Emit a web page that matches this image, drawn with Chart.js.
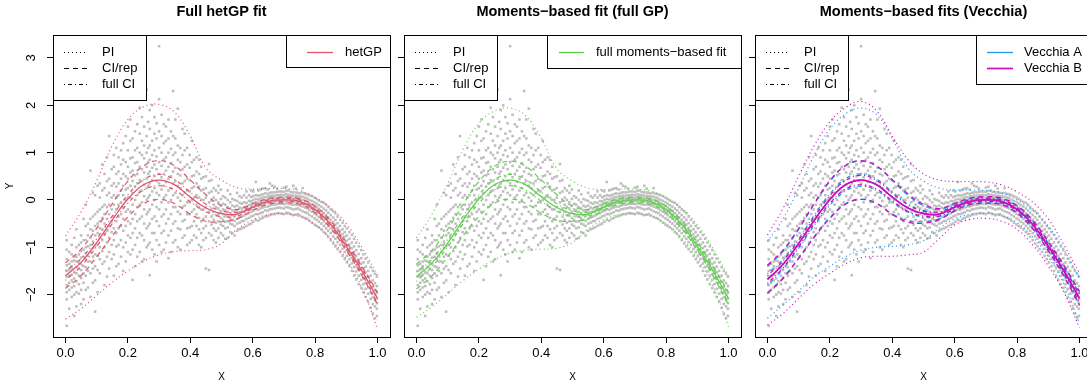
<!DOCTYPE html>
<html>
<head>
<meta charset="utf-8">
<title>hetGP vs moments-based fits</title>
<script src="https://cdn.jsdelivr.net/npm/chart.js@4.4.1/dist/chart.umd.min.js"></script>
<style>
  html, body { margin: 0; padding: 0; background: #fff; overflow: hidden; }
  #wrap { position: relative; width: 1087px; height: 385px; overflow: hidden; }
  #wrap canvas { position: absolute; top: 0; }
</style>
</head>
<body>
<div id="wrap">
  <canvas id="p1" width="400" height="385" style="left:0px"></canvas>
  <canvas id="p2" width="400" height="385" style="left:351px"></canvas>
  <canvas id="p3" width="400" height="385" style="left:702px"></canvas>
</div>
<script>
// prediction grid
const gridX = [0, 0.05, 0.1, 0.15, 0.2, 0.25, 0.3, 0.35, 0.4, 0.45, 0.5,
               0.55, 0.6, 0.65, 0.7, 0.75, 0.8, 0.85, 0.9, 0.95, 1];

// full hetGP fit
const hetMean   = [-1.60, -1.32, -0.90, -0.42, 0.02, 0.32, 0.42, 0.32, 0.06, -0.17, -0.29,
                   -0.30, -0.15, -0.03, 0.00, -0.03, -0.20, -0.52, -0.98, -1.50, -2.08];
const hetPiLo   = [-2.52, -2.30, -2.02, -1.74, -1.50, -1.30, -1.16, -1.09, -1.07, -1.05, -0.92,
                   -0.62, -0.42, -0.31, -0.29, -0.35, -0.52, -0.82, -1.25, -1.85, -2.72];
const hetPiHi   = [-0.76, -0.25, 0.40, 1.15, 1.70, 1.97, 2.02, 1.85, 1.35, 0.68, 0.42,
                   0.26, 0.23, 0.24, 0.24, 0.20, 0.05, -0.17, -0.50, -1.00, -1.60];
const hetCiRep  = [0.27, 0.28, 0.30, 0.34, 0.38, 0.40, 0.41, 0.40, 0.36, 0.28, 0.17,
                   0.10, 0.07, 0.06, 0.06, 0.06, 0.07, 0.08, 0.09, 0.10, 0.13];
const hetCiFull = [0.10, 0.08, 0.08, 0.08, 0.09, 0.11, 0.12, 0.11, 0.10, 0.08, 0.06,
                   0.04, 0.03, 0.03, 0.03, 0.03, 0.03, 0.04, 0.05, 0.06, 0.10];

// moments-based fit, full GP
const momMean   = [-1.62, -1.33, -0.91, -0.42, 0.02, 0.32, 0.42, 0.32, 0.07, -0.16, -0.29,
                   -0.30, -0.15, -0.03, 0.00, -0.03, -0.20, -0.52, -0.98, -1.50, -2.08];
const momPiLo   = [-2.48, -2.26, -1.98, -1.70, -1.46, -1.26, -1.12, -1.06, -1.04, -1.02, -0.90,
                   -0.61, -0.41, -0.31, -0.29, -0.34, -0.51, -0.80, -1.23, -1.82, -2.68];
const momPiHi   = [-0.80, -0.30, 0.35, 1.08, 1.62, 1.88, 1.94, 1.78, 1.30, 0.66, 0.40,
                   0.25, 0.22, 0.23, 0.23, 0.19, 0.04, -0.18, -0.52, -1.02, -1.62];
const momCiRep  = [0.26, 0.27, 0.29, 0.33, 0.37, 0.39, 0.40, 0.39, 0.35, 0.27, 0.16,
                   0.10, 0.07, 0.06, 0.06, 0.06, 0.07, 0.08, 0.09, 0.10, 0.13];
const momCiFull = [0.10, 0.08, 0.08, 0.08, 0.09, 0.11, 0.12, 0.11, 0.10, 0.08, 0.06,
                   0.04, 0.03, 0.03, 0.03, 0.03, 0.03, 0.04, 0.05, 0.06, 0.10];

// moments-based fits, Vecchia approximations A and B
const vecAMean   = [-1.68, -1.36, -0.92, -0.43, 0.01, 0.32, 0.42, 0.32, 0.06, -0.17, -0.29,
                    -0.30, -0.15, -0.03, 0.00, -0.03, -0.20, -0.52, -0.98, -1.50, -2.08];
const vecAPiLo   = [-2.50, -2.22, -1.92, -1.62, -1.40, -1.20, -1.06, -1.00, -0.98, -0.95, -0.86,
                    -0.60, -0.40, -0.30, -0.28, -0.33, -0.48, -0.78, -1.20, -1.78, -2.60];
const vecAPiHi   = [-0.88, -0.40, 0.25, 0.95, 1.50, 1.82, 1.94, 1.80, 1.30, 0.68, 0.40,
                    0.25, 0.21, 0.21, 0.20, 0.15, 0.00, -0.22, -0.55, -1.05, -1.65];
const vecACiRep  = [0.28, 0.28, 0.30, 0.34, 0.38, 0.40, 0.40, 0.39, 0.35, 0.27, 0.17,
                    0.10, 0.07, 0.06, 0.06, 0.06, 0.07, 0.08, 0.09, 0.10, 0.13];
const vecACiFull = [0.12, 0.10, 0.10, 0.11, 0.12, 0.13, 0.13, 0.12, 0.11, 0.09, 0.07,
                    0.05, 0.04, 0.04, 0.04, 0.04, 0.04, 0.05, 0.06, 0.07, 0.11];
const vecBMean   = [-1.68, -1.36, -0.92, -0.43, 0.01, 0.32, 0.42, 0.32, 0.06, -0.17, -0.29,
                    -0.30, -0.15, -0.03, 0.00, -0.03, -0.20, -0.52, -0.98, -1.50, -2.08];
const vecBPiLo   = [-2.64, -2.40, -2.08, -1.78, -1.55, -1.35, -1.22, -1.19, -1.19, -1.16, -1.10,
                    -0.82, -0.53, -0.41, -0.39, -0.45, -0.62, -0.95, -1.40, -1.95, -2.70];
const vecBPiHi   = [-0.74, -0.18, 0.50, 1.15, 1.65, 1.95, 2.08, 1.88, 1.35, 0.85, 0.55,
                    0.42, 0.39, 0.39, 0.38, 0.32, 0.17, -0.05, -0.40, -0.95, -1.55];
const vecBCiRep  = [0.30, 0.30, 0.32, 0.36, 0.40, 0.41, 0.41, 0.40, 0.37, 0.30, 0.20,
                    0.12, 0.08, 0.07, 0.07, 0.07, 0.08, 0.09, 0.10, 0.12, 0.15];
const vecBCiFull = [0.08, 0.07, 0.07, 0.07, 0.08, 0.09, 0.10, 0.09, 0.08, 0.07, 0.05,
                    0.04, 0.03, 0.03, 0.03, 0.03, 0.03, 0.04, 0.04, 0.05, 0.08];

// observed responses, grouped by design location (replicates share an x)
const obsX = [0.004, 0.02, 0.035, 0.05, 0.065, 0.08, 0.095, 0.11, 0.125, 0.14,
              0.155, 0.17, 0.185, 0.2, 0.215, 0.23, 0.245, 0.26, 0.27, 0.285,
              0.3, 0.315, 0.33, 0.345, 0.36, 0.375, 0.39, 0.405, 0.42, 0.435,
              0.45, 0.46, 0.475, 0.49, 0.505, 0.52, 0.535, 0.55, 0.565, 0.58,
              0.595, 0.61, 0.625, 0.64, 0.655, 0.67, 0.685, 0.7, 0.715, 0.73,
              0.745, 0.76, 0.775, 0.79, 0.805, 0.82, 0.835, 0.85, 0.865, 0.88,
              0.895, 0.91, 0.925, 0.94, 0.955, 0.97, 0.985, 0.998,
              0.012, 0.028, 0.043, 0.058, 0.072, 0.088, 0.103, 0.118, 0.133, 0.148,
              0.163, 0.178, 0.193, 0.208, 0.223, 0.238, 0.252, 0.265, 0.278, 0.292,
              0.308, 0.322, 0.338, 0.352, 0.368, 0.382, 0.398, 0.412, 0.428, 0.442,
              0.468, 0.482, 0.498, 0.512, 0.528, 0.542, 0.558, 0.572, 0.588, 0.602,
              0.618, 0.632, 0.648, 0.662, 0.678, 0.692, 0.708, 0.722, 0.738, 0.752,
              0.768, 0.782, 0.798, 0.812, 0.828, 0.842, 0.858, 0.872, 0.888, 0.902,
              0.918, 0.932, 0.948, 0.962, 0.978, 0.992];
const obsY = [
  [-2.66, -2.10, -1.95, -1.80, -1.62, -1.50, -1.38, -1.25, -1.05, -0.85],
  [-2.05, -1.85, -1.70, -1.58, -1.45, -1.40, -1.30, -1.15, -0.95],
  [-2.25, -1.95, -1.72, -1.55, -1.42, -1.30, -1.20, -1.00, -0.62],
  [-2.20, -1.90, -1.65, -1.48, -1.35, -1.22, -1.08, -0.90, -0.75],
  [-1.90, -1.60, -1.42, -1.25, -1.12, -1.00, -0.85, -0.55, -0.10],
  [-2.05, -1.55, -1.30, -1.10, -0.95, -0.80, -0.62, -0.40, 0.62],
  [-2.36, -1.70, -1.40, -1.15, -0.98, -0.75, -0.55, -0.30, 0.10],
  [-1.55, -1.25, -1.00, -0.80, -0.60, -0.45, -0.20, 0.05, 0.35],
  [-1.80, -1.30, -1.00, -0.72, -0.50, -0.30, -0.10, 0.25, 0.55],
  [-1.45, -1.10, -0.80, -0.55, -0.30, -0.10, 0.15, 0.45, 1.35],
  [-1.60, -1.15, -0.85, -0.60, -0.35, -0.10, 0.10, 0.35, 0.70, 0.95],
  [-1.35, -0.95, -0.60, -0.35, -0.10, 0.10, 0.35, 0.60, 0.90],
  [-1.50, -1.00, -0.65, -0.40, -0.15, 0.10, 0.30, 0.55, 0.85, 1.20],
  [-1.10, -0.75, -0.45, -0.20, 0.05, 0.25, 0.45, 0.70, 1.05, 1.55],
  [-1.69, -1.05, -0.70, -0.40, -0.10, 0.15, 0.40, 0.62, 0.90, 1.30],
  [-1.20, -0.80, -0.45, -0.15, 0.10, 0.35, 0.55, 0.80, 1.10, 1.60, 2.30],
  [-1.30, -0.75, -0.35, -0.05, 0.20, 0.40, 0.65, 0.95, 1.25, 1.75],
  [-1.00, -0.60, -0.30, 0.00, 0.25, 0.45, 0.70, 1.00, 1.35, 2.33],
  [-1.59, -0.90, -0.50, -0.20, 0.10, 0.35, 0.60, 0.85, 1.15, 1.50, 1.90],
  [-1.15, -0.70, -0.35, 0.00, 0.25, 0.50, 0.75, 1.05, 1.40, 1.75],
  [-0.95, -0.55, -0.20, 0.10, 0.35, 0.55, 0.80, 1.10, 1.45, 2.13, 3.25],
  [-1.05, -0.65, -0.30, 0.05, 0.30, 0.55, 0.85, 1.20, 1.60],
  [-1.23, -0.75, -0.40, -0.05, 0.20, 0.45, 0.70, 1.00, 1.30, 1.70],
  [-0.90, -0.50, -0.15, 0.10, 0.35, 0.60, 0.95, 1.35, 2.30],
  [-1.00, -0.60, -0.25, 0.05, 0.30, 0.55, 0.85, 1.15, 1.93],
  [-0.80, -0.45, -0.15, 0.10, 0.35, 0.65, 0.95, 1.50],
  [-0.95, -0.60, -0.30, -0.05, 0.20, 0.45, 0.75, 1.10],
  [-0.85, -0.55, -0.25, 0.00, 0.25, 0.50, 0.80, 1.25],
  [-0.80, -0.55, -0.30, -0.10, 0.10, 0.35, 0.60, 0.90],
  [-1.00, -0.70, -0.45, -0.20, 0.00, 0.20, 0.45, 0.70],
  [-1.45, -0.80, -0.55, -0.35, -0.15, 0.05, 0.25, 0.50],
  [-1.48, -0.70, -0.45, -0.25, -0.05, 0.15, 0.40, 0.76],
  [-0.85, -0.60, -0.42, -0.25, -0.10, 0.05, 0.25],
  [-0.80, -0.60, -0.45, -0.30, -0.18, -0.05, 0.15, 0.30],
  [-0.75, -0.55, -0.42, -0.30, -0.20, -0.08, 0.08],
  [-0.80, -0.58, -0.45, -0.35, -0.25, -0.15, 0.00, 0.20],
  [-0.70, -0.52, -0.42, -0.32, -0.22, -0.12, 0.02],
  [-0.65, -0.50, -0.40, -0.30, -0.22, -0.12, -0.02, 0.15],
  [-0.60, -0.45, -0.35, -0.25, -0.18, -0.08, 0.05],
  [-0.55, -0.40, -0.30, -0.22, -0.14, -0.06, 0.05, 0.18],
  [-0.50, -0.35, -0.25, -0.18, -0.10, -0.03, 0.06, 0.20],
  [-0.42, -0.30, -0.20, -0.12, -0.05, 0.02, 0.10, 0.38],
  [-0.40, -0.28, -0.18, -0.10, -0.04, 0.03, 0.10, 0.22],
  [-0.35, -0.22, -0.14, -0.06, 0.00, 0.06, 0.14, 0.25],
  [-0.32, -0.20, -0.12, -0.05, 0.02, 0.08, 0.15, 0.35],
  [-0.30, -0.18, -0.10, -0.03, 0.03, 0.09, 0.16, 0.28],
  [-0.28, -0.16, -0.08, -0.02, 0.04, 0.10, 0.18],
  [-0.30, -0.18, -0.09, -0.02, 0.04, 0.10, 0.17, 0.26],
  [-0.28, -0.16, -0.08, -0.01, 0.05, 0.11, 0.20],
  [-0.32, -0.20, -0.10, -0.03, 0.03, 0.09, 0.16, 0.30],
  [-0.30, -0.18, -0.10, -0.04, 0.02, 0.08, 0.15],
  [-0.36, -0.24, -0.14, -0.07, 0.00, 0.07, 0.15, 0.25],
  [-0.40, -0.28, -0.18, -0.10, -0.04, 0.03, 0.12],
  [-0.48, -0.35, -0.25, -0.17, -0.10, -0.02, 0.08],
  [-0.55, -0.42, -0.32, -0.24, -0.16, -0.08, 0.02],
  [-0.62, -0.50, -0.40, -0.31, -0.23, -0.14, -0.04],
  [-0.72, -0.60, -0.50, -0.40, -0.32, -0.22, -0.10],
  [-0.85, -0.70, -0.60, -0.50, -0.42, -0.32, -0.20],
  [-0.98, -0.82, -0.70, -0.62, -0.52, -0.42, -0.28],
  [-1.10, -0.95, -0.84, -0.75, -0.65, -0.55, -0.42],
  [-1.25, -1.10, -0.98, -0.88, -0.78, -0.68, -0.55],
  [-1.40, -1.25, -1.14, -1.04, -0.94, -0.82, -0.68],
  [-1.60, -1.42, -1.30, -1.20, -1.10, -0.98, -0.82],
  [-1.78, -1.60, -1.48, -1.37, -1.26, -1.14, -0.98],
  [-1.95, -1.78, -1.65, -1.55, -1.44, -1.32, -1.15],
  [-2.15, -1.98, -1.85, -1.74, -1.62, -1.50, -1.32],
  [-2.40, -2.20, -2.06, -1.95, -1.84, -1.70, -1.50],
  [-2.45, -2.30, -2.18, -2.08, -1.96, -1.82, -1.62],
  [-2.30, -1.90, -1.75, -1.60, -1.48, -1.35, -1.10],
  [-2.45, -2.00, -1.82, -1.66, -1.52, -1.28, -1.20, -0.80],
  [-1.98, -1.78, -1.60, -1.45, -1.33, -1.15, -0.95],
  [-2.10, -1.75, -1.55, -1.40, -1.20, -1.05, -0.85, -0.40],
  [-1.85, -1.50, -1.30, -1.18, -0.98, -0.75, -0.50],
  [-1.75, -1.45, -1.20, -1.02, -0.88, -0.65, -0.35, 0.15],
  [-1.95, -1.48, -1.18, -0.95, -0.70, -0.50, -0.25, 0.30],
  [-1.35, -1.08, -0.85, -0.62, -0.38, -0.15, 0.20, 0.75],
  [-1.62, -1.20, -0.90, -0.65, -0.40, -0.15, 0.10, 0.40, 0.90],
  [-1.25, -0.95, -0.68, -0.45, -0.20, 0.05, 0.30, 0.65],
  [-1.40, -0.98, -0.70, -0.45, -0.20, 0.05, 0.28, 0.55, 1.10],
  [-1.20, -0.85, -0.55, -0.30, -0.05, 0.20, 0.45, 0.75, 1.05],
  [-1.30, -0.90, -0.55, -0.25, 0.00, 0.22, 0.50, 0.80, 1.35],
  [-1.15, -0.80, -0.50, -0.25, 0.05, 0.30, 0.58, 0.88, 1.25, 1.70],
  [-1.40, -0.95, -0.60, -0.30, 0.00, 0.28, 0.52, 0.78, 1.05, 1.45],
  [-1.10, -0.70, -0.40, -0.10, 0.18, 0.42, 0.70, 1.00, 1.40, 1.95],
  [-1.25, -0.85, -0.50, -0.20, 0.08, 0.32, 0.58, 0.88, 1.15, 1.55],
  [-0.95, -0.55, -0.25, 0.05, 0.30, 0.55, 0.80, 1.10, 1.65],
  [-1.05, -0.70, -0.40, -0.10, 0.18, 0.42, 0.68, 0.95, 1.25, 2.00],
  [-1.30, -0.85, -0.45, -0.15, 0.15, 0.40, 0.65, 0.92, 1.30, 1.62],
  [-1.10, -0.70, -0.35, -0.05, 0.22, 0.48, 0.72, 1.00, 1.35, 1.80],
  [-0.90, -0.50, -0.20, 0.10, 0.38, 0.62, 0.90, 1.25, 1.55],
  [-1.10, -0.65, -0.30, 0.00, 0.25, 0.50, 0.78, 1.08, 1.45],
  [-0.85, -0.45, -0.15, 0.15, 0.40, 0.68, 1.00, 1.30, 1.70],
  [-1.05, -0.62, -0.30, -0.02, 0.25, 0.52, 0.80, 1.10],
  [-0.75, -0.42, -0.12, 0.15, 0.40, 0.70, 1.05, 1.40],
  [-0.90, -0.58, -0.30, -0.05, 0.18, 0.42, 0.68, 0.95],
  [-0.75, -0.45, -0.20, 0.05, 0.28, 0.52, 0.85],
  [-0.95, -0.62, -0.38, -0.15, 0.05, 0.28, 0.55, 0.85],
  [-0.85, -0.60, -0.40, -0.20, 0.00, 0.22, 0.48],
  [-0.75, -0.52, -0.35, -0.18, -0.02, 0.18, 0.42],
  [-0.90, -0.65, -0.48, -0.32, -0.15, 0.00, 0.20],
  [-0.70, -0.52, -0.38, -0.25, -0.12, 0.02, 0.22],
  [-0.82, -0.60, -0.46, -0.34, -0.22, -0.10, 0.05],
  [-0.68, -0.50, -0.40, -0.28, -0.18, -0.05, 0.12],
  [-0.75, -0.55, -0.44, -0.34, -0.24, -0.14, 0.00],
  [-0.62, -0.48, -0.36, -0.26, -0.16, -0.06, 0.08],
  [-0.58, -0.44, -0.33, -0.24, -0.15, -0.05, 0.10],
  [-0.52, -0.38, -0.28, -0.19, -0.11, -0.02, 0.10],
  [-0.46, -0.33, -0.23, -0.15, -0.07, 0.00, 0.08, 0.18],
  [-0.44, -0.30, -0.21, -0.13, -0.06, 0.01, 0.09, 0.20],
  [-0.38, -0.26, -0.16, -0.08, -0.01, 0.05, 0.12, 0.24],
  [-0.34, -0.23, -0.14, -0.06, 0.01, 0.07, 0.13, 0.22],
  [-0.30, -0.19, -0.10, -0.03, 0.03, 0.09, 0.16, 0.30],
  [-0.28, -0.17, -0.09, -0.02, 0.04, 0.10, 0.17, 0.24],
  [-0.29, -0.17, -0.08, -0.01, 0.05, 0.11, 0.18],
  [-0.27, -0.15, -0.07, 0.00, 0.06, 0.12, 0.19, 0.28],
  [-0.30, -0.18, -0.09, -0.02, 0.04, 0.10, 0.17],
  [-0.31, -0.19, -0.10, -0.03, 0.03, 0.09, 0.16, 0.24],
  [-0.33, -0.21, -0.12, -0.05, 0.01, 0.07, 0.14],
  [-0.38, -0.26, -0.16, -0.09, -0.02, 0.05, 0.13],
  [-0.44, -0.32, -0.22, -0.14, -0.07, 0.00, 0.10],
  [-0.52, -0.39, -0.29, -0.21, -0.13, -0.05, 0.05],
  [-0.58, -0.46, -0.36, -0.27, -0.19, -0.11, -0.01],
  [-0.68, -0.55, -0.45, -0.36, -0.28, -0.18, -0.06],
  [-0.78, -0.65, -0.55, -0.46, -0.37, -0.27, -0.15],
  [-0.92, -0.77, -0.66, -0.56, -0.47, -0.37, -0.24],
  [-1.04, -0.89, -0.78, -0.68, -0.59, -0.49, -0.35],
  [-1.18, -1.03, -0.91, -0.82, -0.72, -0.62, -0.48],
  [-1.32, -1.18, -1.06, -0.96, -0.86, -0.75, -0.60],
  [-1.50, -1.34, -1.22, -1.12, -1.02, -0.90, -0.74],
  [-1.68, -1.51, -1.39, -1.29, -1.18, -1.06, -0.90],
  [-1.86, -1.69, -1.57, -1.46, -1.35, -1.23, -1.06],
  [-2.05, -1.88, -1.75, -1.64, -1.53, -1.41, -1.24],
  [-2.28, -2.09, -1.96, -1.85, -1.73, -1.60, -1.42],
  [-2.50, -2.25, -2.12, -2.01, -1.90, -1.76, -1.56]
];

// axis ticks
const xTicks = [0, 0.2, 0.4, 0.6, 0.8, 1];
const yTicks = [-2, -1, 0, 1, 2, 3];

const FONT = "'Liberation Sans', Arial, Helvetica, sans-serif";
const DOTTED = [1, 3];
const DASHED = [5, 4];
const DOTDASH = [1, 3, 4, 3];

const fits = {
  het:  { name: 'hetGP', color: '#DF536B', width: 1.3,
          mean: hetMean, piLo: hetPiLo, piHi: hetPiHi, ciRep: hetCiRep, ciFull: hetCiFull },
  mom:  { name: 'full moments\u2212based fit', color: '#61D04F', width: 1.3,
          mean: momMean, piLo: momPiLo, piHi: momPiHi, ciRep: momCiRep, ciFull: momCiFull },
  vecA: { name: 'Vecchia A', color: '#2297E6', width: 1.3,
          mean: vecAMean, piLo: vecAPiLo, piHi: vecAPiHi, ciRep: vecACiRep, ciFull: vecACiFull },
  vecB: { name: 'Vecchia B', color: '#CD0BBC', width: 1.7,
          mean: vecBMean, piLo: vecBPiLo, piHi: vecBPiHi, ciRep: vecBCiRep, ciFull: vecBCiFull }
};

const panels = [
  { id: 'p1', title: 'Full hetGP fit', yLabels: true, fits: [fits.het],
    legend: { w: 104, h: 32, lineFrom: 21, lineTo: 47, textAt: 59 } },
  { id: 'p2', title: 'Moments\u2212based fit (full GP)', yLabels: false, fits: [fits.mom],
    legend: { w: 194, h: 33, lineFrom: 12, lineTo: 37, textAt: 49 } },
  { id: 'p3', title: 'Moments\u2212based fits (Vecchia)', yLabels: false, fits: [fits.vecA, fits.vecB],
    legend: { w: 116, h: 49, lineFrom: 11, lineTo: 37, textAt: 48 } }
];

function pts(ys) {
  return gridX.map((x, i) => ({ x: x, y: ys[i] }));
}

function shifted(mean, hw, sign) {
  return gridX.map((x, i) => ({ x: x, y: mean[i] + sign * hw[i] }));
}

function fitDatasets(fit, order) {
  const base = {
    type: 'line', borderColor: fit.color, borderWidth: 1.2, pointRadius: 0,
    tension: 0.4, fill: false, order: order
  };
  return [
    Object.assign({}, base, { data: pts(fit.mean), borderWidth: fit.width }),
    Object.assign({}, base, { data: shifted(fit.mean, fit.ciFull, 1), borderDash: DOTDASH }),
    Object.assign({}, base, { data: shifted(fit.mean, fit.ciFull, -1), borderDash: DOTDASH }),
    Object.assign({}, base, { data: shifted(fit.mean, fit.ciRep, 1), borderDash: DASHED }),
    Object.assign({}, base, { data: shifted(fit.mean, fit.ciRep, -1), borderDash: DASHED }),
    Object.assign({}, base, { data: pts(fit.piHi), borderDash: DOTTED }),
    Object.assign({}, base, { data: pts(fit.piLo), borderDash: DOTTED })
  ];
}

const obsPoints = [];
obsX.forEach((x, i) => obsY[i].forEach(y => obsPoints.push({ x: x, y: y })));

// box, titles, rotated y labels and the two legends of each panel
const panelDeco = {
  id: 'panelDeco',
  afterDraw(chart, args, opts) {
    const { ctx, chartArea: a } = chart;
    const yScale = chart.scales.y;
    const cx = (a.left + a.right) / 2;
    ctx.save();
    ctx.strokeStyle = '#000';
    ctx.lineWidth = 1;
    ctx.setLineDash([]);
    ctx.strokeRect(a.left + 0.5, a.top + 0.5, a.right - a.left, a.bottom - a.top);

    ctx.fillStyle = '#000';
    ctx.textAlign = 'center';
    ctx.textBaseline = 'middle';
    ctx.font = 'bold 14.5px ' + FONT;
    ctx.fillText(opts.title, cx, 12);
    ctx.font = '10px ' + FONT;
    ctx.fillText('X', cx, 377);

    if (opts.yLabels) {
      ctx.font = '13px ' + FONT;
      yTicks.forEach(v => {
        ctx.save();
        ctx.translate(31, yScale.getPixelForValue(v));
        ctx.rotate(-Math.PI / 2);
        ctx.fillText(String(v).replace('-', '\u2212'), 0, 0);
        ctx.restore();
      });
      ctx.save();
      ctx.font = '10px ' + FONT;
      ctx.translate(10, (a.top + a.bottom) / 2);
      ctx.rotate(-Math.PI / 2);
      ctx.fillText('Y', 0, 0);
      ctx.restore();
    }

    // line-type legend, top left
    const lx = a.left, ly = a.top;
    ctx.fillStyle = '#fff';
    ctx.fillRect(lx, ly, 93, 65);
    ctx.strokeRect(lx + 0.5, ly + 0.5, 93, 65);
    ctx.font = '13px ' + FONT;
    ctx.textAlign = 'left';
    [['PI', DOTTED], ['CI/rep', DASHED], ['full CI', DOTDASH]].forEach((e, i) => {
      const yy = ly + 17 + i * 16;
      ctx.setLineDash(e[1]);
      ctx.beginPath();
      ctx.moveTo(lx + 11, yy + 0.5);
      ctx.lineTo(lx + 34, yy + 0.5);
      ctx.stroke();
      ctx.setLineDash([]);
      ctx.fillStyle = '#000';
      ctx.fillText(e[0], lx + 49, yy);
    });

    // fit legend, top right
    const L = opts.legend;
    const rx = a.right - L.w, ry = a.top;
    ctx.fillStyle = '#fff';
    ctx.fillRect(rx, ry, L.w, L.h);
    ctx.strokeStyle = '#000';
    ctx.strokeRect(rx + 0.5, ry + 0.5, L.w, L.h);
    opts.fits.forEach((f, i) => {
      const yy = ry + 17 + i * 16;
      ctx.strokeStyle = f.color;
      ctx.lineWidth = f.width;
      ctx.beginPath();
      ctx.moveTo(rx + L.lineFrom, yy + 0.5);
      ctx.lineTo(rx + L.lineTo, yy + 0.5);
      ctx.stroke();
      ctx.fillStyle = '#000';
      ctx.fillText(f.name, rx + L.textAt, yy);
    });
    ctx.restore();
  }
};

panels.forEach(p => {
  const datasets = [];
  // later fits are drawn on top of earlier ones
  p.fits.forEach((f, i) => fitDatasets(f, p.fits.length - i).forEach(d => datasets.push(d)));
  datasets.push({
    type: 'scatter', data: obsPoints, order: 50,
    pointStyle: 'rect', pointRadius: 1.8, pointBorderWidth: 0,
    pointBackgroundColor: '#BEBEBE', pointBorderColor: '#BEBEBE'
  });

  new Chart(document.getElementById(p.id), {
    type: 'scatter',
    data: { datasets: datasets },
    options: {
      responsive: false,
      animation: false,
      events: [],
      layout: { padding: { left: 0, right: 10, top: 35, bottom: 0 } },
      scales: {
        x: {
          type: 'linear', min: -0.04, max: 1.04,
          afterBuildTicks: s => { s.ticks = xTicks.map(v => ({ value: v })); },
          afterFit: s => { s.height = 48; },
          border: { display: false },
          grid: { drawOnChartArea: false, drawTicks: true, tickLength: 6, color: '#000' },
          ticks: { color: '#000', font: { family: FONT, size: 13 }, padding: 3,
                   maxRotation: 0, minRotation: 0, callback: v => v.toFixed(1) }
        },
        y: {
          type: 'linear', min: -2.896, max: 3.486,
          afterBuildTicks: s => { s.ticks = yTicks.map(v => ({ value: v })); },
          afterFit: s => { s.width = 53; },
          border: { display: false },
          grid: { drawOnChartArea: false, drawTicks: true, tickLength: 6, color: '#000' },
          ticks: { display: false }
        }
      },
      plugins: {
        legend: { display: false },
        tooltip: { enabled: false },
        panelDeco: { title: p.title, yLabels: p.yLabels, fits: p.fits, legend: p.legend }
      }
    },
    plugins: [panelDeco]
  });
});
</script>
</body>
</html>
